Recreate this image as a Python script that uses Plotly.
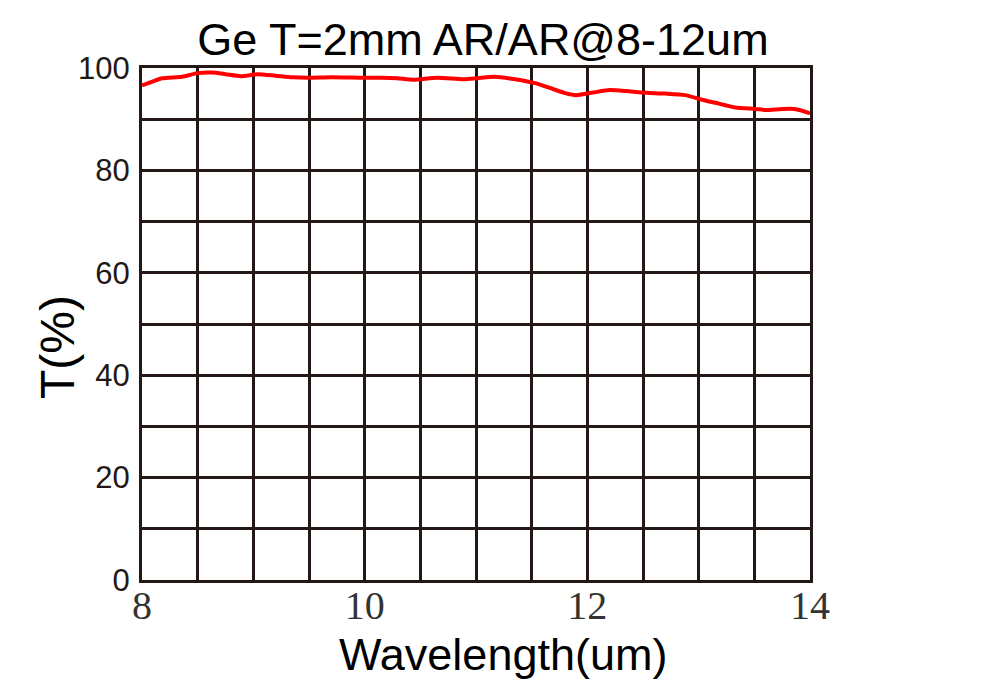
import plotly.graph_objects as go

wavelength = [8.0, 8.1, 8.18, 8.36, 8.5, 8.63, 8.75, 8.89, 9.04, 9.2, 9.35, 9.49, 9.7, 9.99, 10.15, 10.29,
              10.44, 10.65, 10.89, 11.01, 11.17, 11.35, 11.54, 11.69, 11.8, 11.9, 12.05, 12.2, 12.35, 12.49,
              12.7, 12.88, 13.03, 13.15, 13.33, 13.51, 13.6, 13.75, 13.86, 13.98, 14.0]
transmission = [96.6, 97.4, 98.0, 98.3, 99.0, 99.1, 98.8, 98.4, 98.8, 98.5, 98.2, 98.1, 98.2, 98.1, 98.1, 98.0,
                97.7, 98.1, 97.8, 98.0, 98.3, 97.8, 97.0, 95.9, 95.1, 94.7, 95.2, 95.7, 95.5, 95.2,
                95.0, 94.7, 93.8, 93.2, 92.3, 92.0, 91.8, 92.0, 92.0, 91.3, 91.1]

title_text = "Ge T=2mm AR/AR@8-12um"
x_title = "Wavelength(um)"
y_title = "T(%)"

ink = "#231815"

fig = go.Figure()
fig.add_trace(go.Scatter(x=wavelength, y=transmission, mode="lines",
                         line=dict(color="#ff0000", width=4, shape="spline", smoothing=0.6),
                         showlegend=False, hoverinfo="skip"))

fig.update_layout(
    width=1000, height=700,
    paper_bgcolor="white", plot_bgcolor="white",
    margin=dict(l=134, r=198, t=60, b=128, autoexpand=False),
    title=dict(text=title_text, x=475/1000, xanchor="center", y=1-31/700, yanchor="middle",
               font=dict(family="Liberation Sans, Arial", size=45, color="black")),
)
fig.update_xaxes(
    range=[8, 14], dtick=2, tick0=8,
    showgrid=True, gridcolor=ink, gridwidth=3,
    minor=dict(dtick=0.5, showgrid=True, gridcolor=ink, gridwidth=3),
    showline=True, linecolor=ink, linewidth=3, mirror=True,
    ticks="", zeroline=False,
    tickfont=dict(family="Liberation Serif, Times New Roman", size=40, color="#333333"),
    ticklabelstandoff=-12,
)
fig.update_yaxes(
    range=[0, 100], dtick=20, tick0=0,
    showgrid=True, gridcolor=ink, gridwidth=3,
    minor=dict(dtick=10, showgrid=True, gridcolor=ink, gridwidth=3),
    showline=True, linecolor=ink, linewidth=3, mirror=True,
    ticks="", zeroline=False,
    tickfont=dict(family="Liberation Sans, Arial", size=31, color=ink),
    ticklabelstandoff=3,
)
fig.add_annotation(text=x_title, xref="paper", yref="paper", x=(495-134)/668, y=-(646-572)/512,
                   xanchor="center", yanchor="middle", showarrow=False,
                   font=dict(family="Liberation Sans, Arial", size=45, color="black"))
fig.add_annotation(text=y_title, xref="paper", yref="paper", x=-(134-49)/668, y=(572-339)/512,
                   xanchor="center", yanchor="middle", showarrow=False, textangle=-90,
                   font=dict(family="Liberation Sans, Arial", size=48, color="black"))

fig.write_html("out.html")
